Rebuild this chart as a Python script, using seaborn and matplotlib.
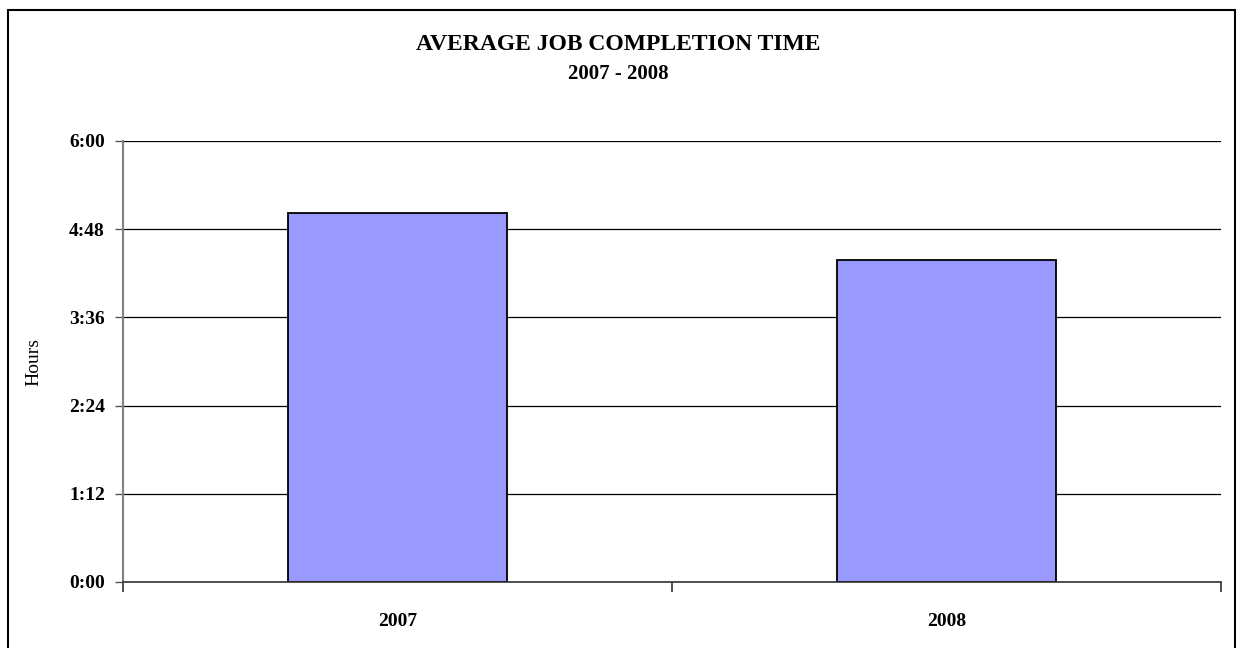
import matplotlib
matplotlib.use("Agg")
import matplotlib.pyplot as plt
import seaborn as sns
import pandas as pd
from matplotlib.ticker import FixedLocator, FuncFormatter
from matplotlib.patches import Rectangle

years = ["2007", "2008"]
minutes = [301, 263]  # average completion time in minutes
ytick_minutes = [0, 72, 144, 216, 288, 360]

sns.set_theme(style="white")
plt.rcParams["font.family"] = ["Liberation Serif", "DejaVu Serif"]
plt.rcParams["text.color"] = "black"
plt.rcParams["axes.labelcolor"] = "black"
plt.rcParams["xtick.color"] = "black"
plt.rcParams["ytick.color"] = "black"

df = pd.DataFrame({"year": years, "minutes": minutes})

fig = plt.figure(figsize=(12.36, 6.48), dpi=100)
ax = fig.add_axes([123/1236, 1 - 582/648, (1221-123)/1236, (582-141)/648])

for v in ytick_minutes:
    ax.axhline(v, color="black", lw=0.9, zorder=0)

sns.barplot(data=df, x="year", y="minutes", ax=ax, color="#9999FF",
            saturation=1, width=0.4, edgecolor="black", linewidth=1.3, zorder=2)

ax.set_xlim(-0.5, 1.5)
ax.set_ylim(0, 360)
ax.yaxis.set_major_locator(FixedLocator(ytick_minutes))
ax.yaxis.set_major_formatter(FuncFormatter(lambda v, p: f"{int(v)//60}:{int(v)%60:02d}"))
ax.tick_params(axis="y", which="major", direction="out", length=6, width=1,
               color="#555555", labelsize=14, labelcolor="black", pad=7, left=True)
ax.tick_params(axis="x", which="major", length=0, labelsize=14, pad=22,
               labelcolor="black")
for lab in ax.get_yticklabels() + ax.get_xticklabels():
    lab.set_fontweight("bold")
ax.xaxis.set_minor_locator(FixedLocator([-0.5, 0.5, 1.5]))
ax.tick_params(axis="x", which="minor", direction="out", length=7, width=1.2,
               color="#333333", bottom=True)

ax.set_xlabel("")
ax.set_ylabel("Hours", fontsize=14, color="black")
ax.yaxis.set_label_coords((42 - 123) / 1098, 0.5)
for s in ["top", "right"]:
    ax.spines[s].set_visible(False)
ax.spines["left"].set_color("#808080")
ax.spines["left"].set_linewidth(1.5)
ax.spines["bottom"].set_color("#333333")
ax.spines["bottom"].set_linewidth(1.2)

fig.text(0.5, 1 - 44/648, "AVERAGE JOB COMPLETION TIME", ha="center", va="center",
         fontsize=17, fontweight="bold", color="black")
fig.text(0.5, 1 - 74/648, "2007 - 2008", ha="center", va="center",
         fontsize=15, fontweight="bold", color="black")

fig.patches.append(Rectangle((8/1236, -0.05), (1235-8)/1236, 1.05 - 10/648,
                             transform=fig.transFigure, fill=False,
                             edgecolor="black", lw=1.5))

fig.savefig("out.png", dpi=100)
